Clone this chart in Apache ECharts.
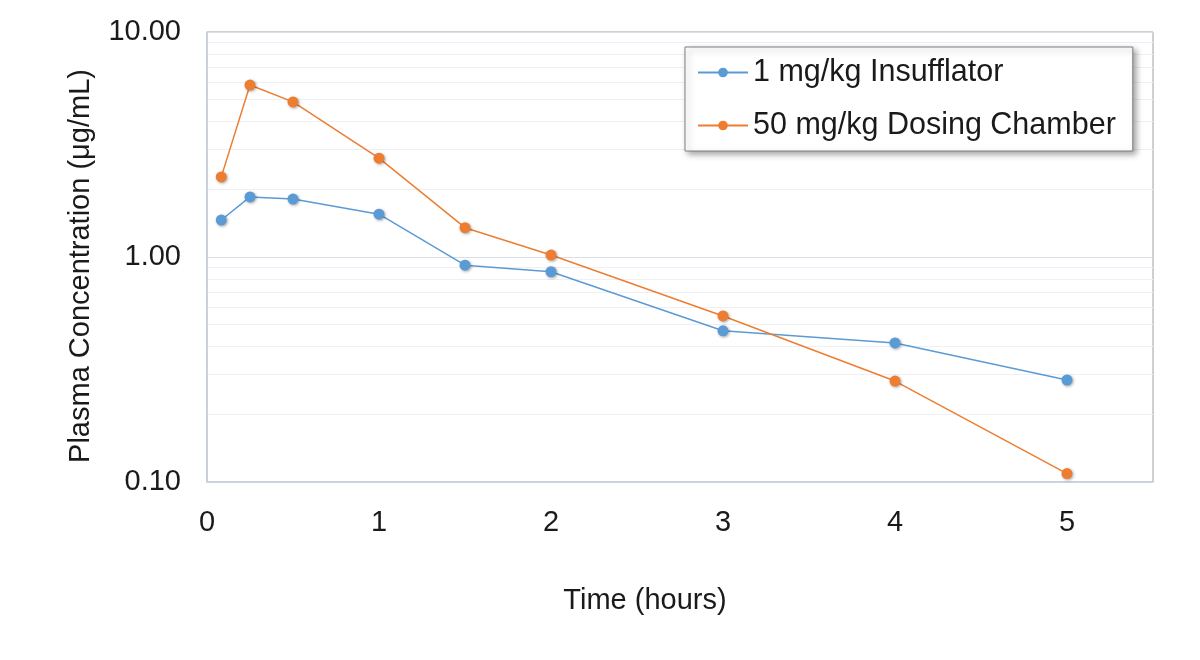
<!DOCTYPE html>
<html>
<head>
<meta charset="utf-8">
<script src="https://cdn.jsdelivr.net/npm/echarts@6/dist/echarts.min.js"></script>
<style>html,body{margin:0;padding:0;background:#fff;}#chart{width:1200px;height:660px;}</style>
</head>
<body>
<div id="chart"></div>
<script>
const timeHours = [0.083, 0.25, 0.5, 1, 1.5, 2, 3, 4, 5];
const insufflator = [1.46, 1.85, 1.81, 1.55, 0.92, 0.86, 0.47, 0.415, 0.284];
const dosingChamber = [2.27, 5.81, 4.89, 2.75, 1.35, 1.02, 0.547, 0.281, 0.109];
const seriesNames = ['1 mg/kg Insufflator', '50 mg/kg Dosing Chamber'];

const chart = echarts.init(document.getElementById('chart'));
const font = "'Liberation Sans', Arial, sans-serif";
function pairs(vals) { return timeHours.map((t, i) => [t, vals[i]]); }
const markerStyle = (c) => ({ color: c, shadowBlur: 3, shadowColor: 'rgba(0,0,0,0.35)', shadowOffsetX: 1, shadowOffsetY: 1 });

chart.setOption({
  animation: false,
  backgroundColor: '#fff',
  textStyle: { fontFamily: font },
  grid: { left: 207, right: 47, top: 32, bottom: 178, show: true, borderColor: '#a0a0a0', borderWidth: 1 },
  legend: {
    data: seriesNames,
    orient: 'vertical',
    left: 685, top: 47,
    padding: [10, 17, 10, 12],
    itemGap: 22,
    itemWidth: 50,
    itemHeight: 12,
    backgroundColor: '#fff',
    borderColor: '#7f7f7f', borderWidth: 1,
    shadowBlur: 6, shadowColor: 'rgba(0,0,0,0.35)', shadowOffsetX: 3, shadowOffsetY: 3,
    textStyle: { fontSize: 30.5, color: '#1a1a1a', fontFamily: font }
  },
  xAxis: {
    type: 'value', min: 0, max: 5.5, interval: 1,
    name: 'Time (hours)', nameLocation: 'middle', nameGap: 104,
    nameTextStyle: { fontSize: 29, color: '#1a1a1a', fontFamily: font, padding: [0, 70, 0, 0] },
    axisLine: { show: true, lineStyle: { color: '#c8d0df', width: 1.5 } },
    axisTick: { show: false },
    axisLabel: { fontSize: 29, color: '#1a1a1a', fontFamily: font, margin: 26, showMaxLabel: false,
      formatter: v => (Number.isInteger(v) ? String(v) : '') },
    splitLine: { show: false }
  },
  yAxis: {
    type: 'log', logBase: 10, min: 0.1, max: 10,
    name: 'Plasma Concentration (μg/mL)', nameLocation: 'middle', nameGap: 112,
    nameTextStyle: { fontSize: 29, color: '#1a1a1a', fontFamily: font, padding: [0, 18, 0, 0] },
    axisLine: { show: true, lineStyle: { color: '#c8d0df', width: 1.5 } },
    axisTick: { show: false },
    axisLabel: { fontSize: 29, color: '#1a1a1a', fontFamily: font, margin: 26, formatter: v => v.toFixed(2) },
    splitLine: { show: true, lineStyle: { color: '#d9dee8', width: 1 } },
    minorTick: { show: false, splitNumber: 9 },
    minorSplitLine: { show: true, lineStyle: { color: '#eef0f4', width: 1 } }
  },
  series: [
    {
      name: seriesNames[0], type: 'line', data: pairs(insufflator),
      symbol: 'circle', symbolSize: 11,
      lineStyle: { color: '#5b9bd5', width: 1.5 },
      itemStyle: markerStyle('#5b9bd5')
    },
    {
      name: seriesNames[1], type: 'line', data: pairs(dosingChamber),
      symbol: 'circle', symbolSize: 11,
      lineStyle: { color: '#ed7d31', width: 1.5 },
      itemStyle: markerStyle('#ed7d31')
    }
  ]
});
</script>
</body>
</html>
